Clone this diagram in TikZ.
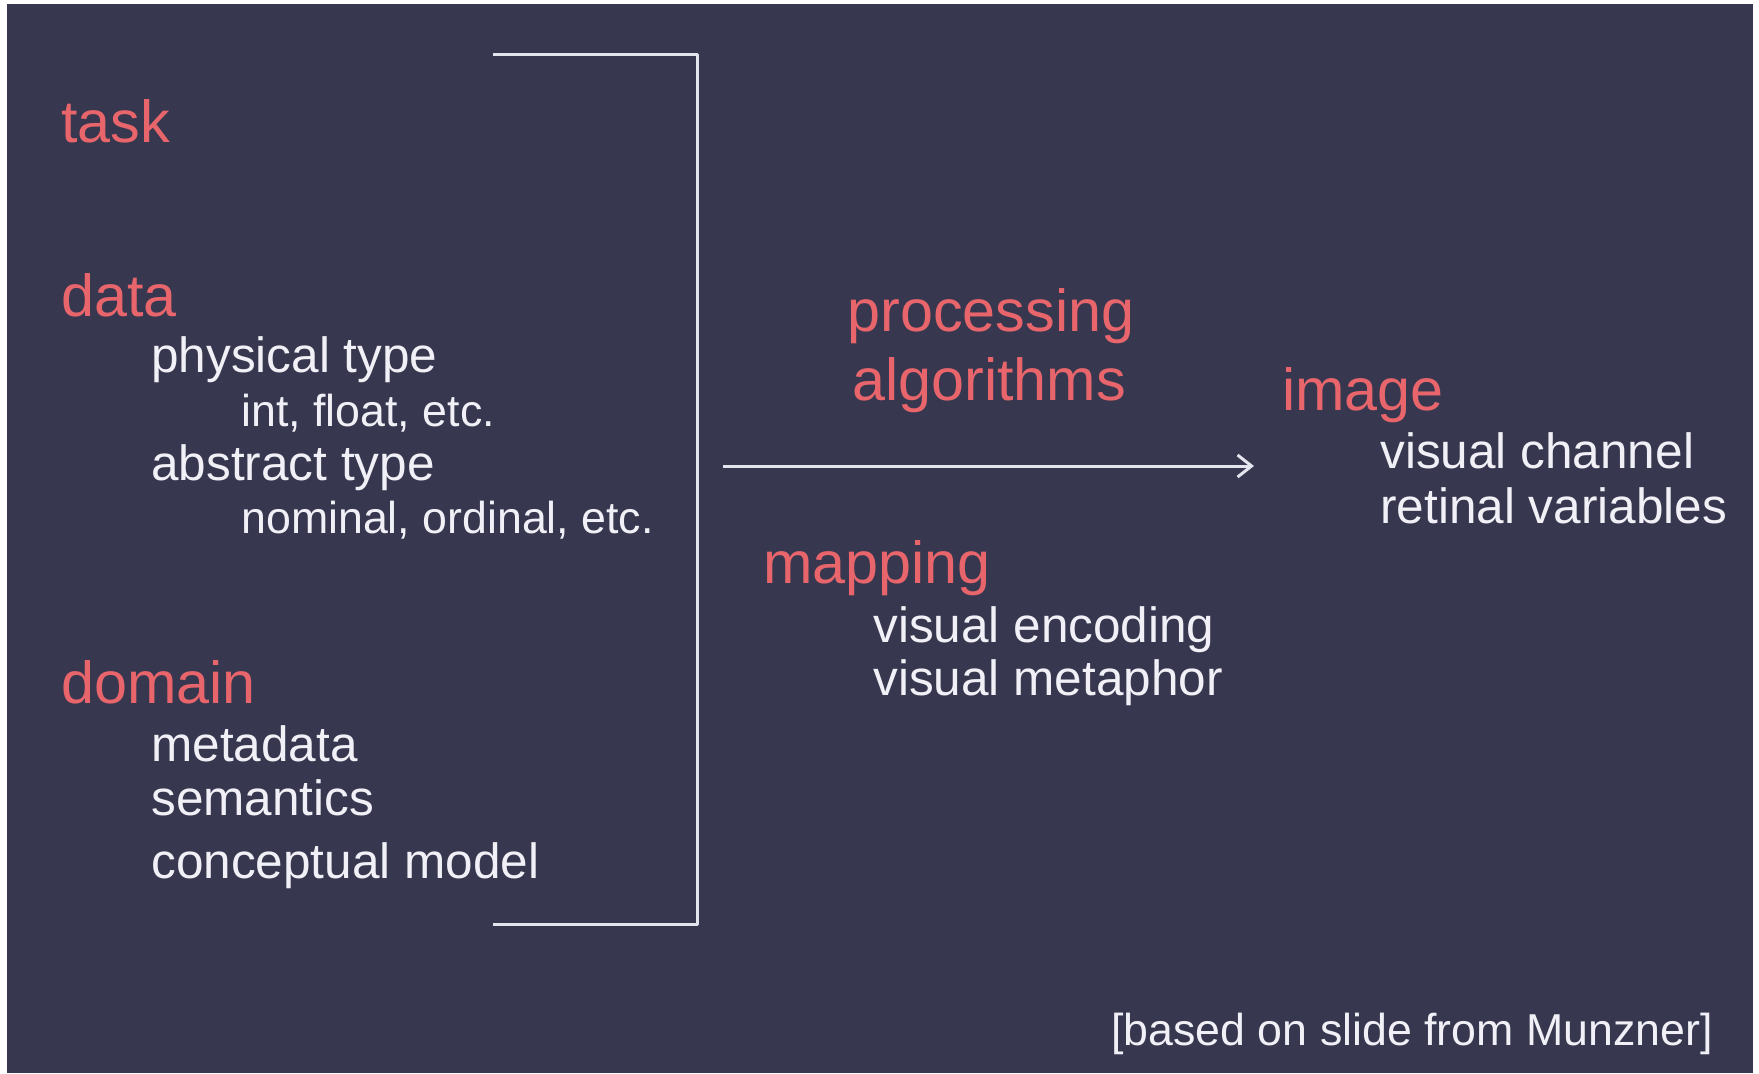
\documentclass[tikz,border=0pt]{standalone}
\usepackage{fontspec}
\setmainfont{Liberation Sans}
\usetikzlibrary{arrows.meta}
\definecolor{bgc}{HTML}{383750}
\definecolor{redc}{HTML}{E8666B}
\definecolor{whc}{HTML}{F0F0F6}
\definecolor{linec}{HTML}{E4E4EE}
\tikzset{
  head/.style={anchor=base west,inner sep=0pt,text=redc,font=\fontsize{29.65}{34}\selectfont},
  sub/.style={anchor=base west,inner sep=0pt,text=whc,font=\fontsize{24.75}{30}\selectfont},
  subsub/.style={anchor=base west,inner sep=0pt,text=whc,font=\fontsize{22.35}{27}\selectfont},
  bline/.style={draw=linec,line width=1.5pt},
}
\begin{document}
\begin{tikzpicture}[x=0.5pt,y=-0.5pt]
\useasboundingbox (0,0) rectangle (1759,1073);
\fill[white] (0,0) rectangle (1759,1073);
\fill[bgc] (7,4) rectangle (1753,1073);
% left column
\node[head] (task) at (61,142) {task};
\node[head] (data) at (61,316) {data};
\node[sub] (phys) at (151,372) {physical type};
\node[subsub] (intf) at (241,426) {int, float, etc.};
\node[sub] (abst) at (151,480) {abstract type};
\node[subsub] (nomi) at (241,533) {nominal, ordinal, etc.};
\node[head] (domain) at (61,703) {domain};
\node[sub] (meta) at (151,761) {metadata};
\node[sub] (sema) at (151,815) {semantics};
\node[sub] (conc) at (151,878) {conceptual model};
% bracket
\coordinate (bt) at (493,54);
\coordinate (btr) at (697,54);
\coordinate (bbr) at (697,924);
\coordinate (bb) at (493,924);
\draw[bline,line join=round] (bt) -- (btr) -- (bbr) -- (bb);
% middle
\node[head] (proc) at (847,331) {processing};
\node[head] (algo) at (852,400) {algorithms};
\coordinate (as) at (723,466);
\coordinate (ae) at (1254,466);
\draw[bline,-{Straight Barb[length=7pt,width=11pt,line width=1.5pt]}] (as) -- (ae);
\node[head] (mapp) at (763,583) {mapping};
\node[sub] (venc) at (873,642) {visual encoding};
\node[sub] (vmet) at (873,695) {visual metaphor};
% right
\node[head] (image) at (1282,410) {image};
\node[sub] (vch) at (1380,468) {visual channel};
\node[sub] (ret) at (1380,523) {retinal variables};
\node[subsub] (src) at (1111,1045) {[based on slide from Munzner]};
\end{tikzpicture}
\end{document}
